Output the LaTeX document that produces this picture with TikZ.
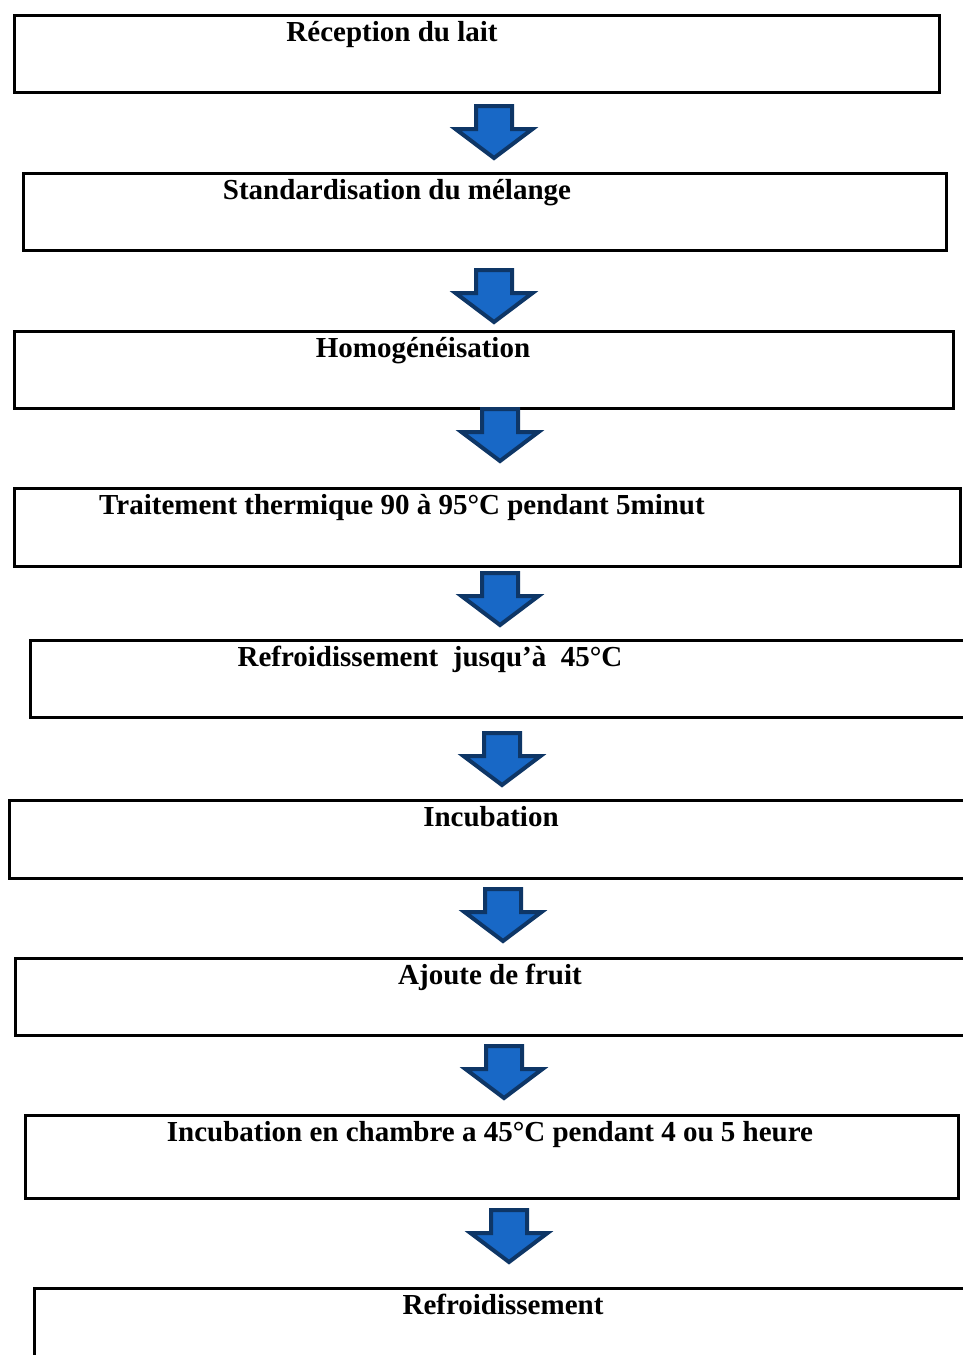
\documentclass[tikz,border=0pt]{standalone}
\usepackage{fontspec}
\setmainfont{Liberation Serif}
\definecolor{arrfill}{RGB}{24,104,198}
\definecolor{arrline}{RGB}{14,54,102}
\begin{document}
\begin{tikzpicture}[x=1pt,y=-1pt,
  box/.style={draw=black,line width=2.5pt,inner sep=0pt,anchor=north west},
  lbl/.style={font=\fontsize{29}{34}\selectfont\bfseries,anchor=base,inner sep=0pt},
  blockarrow/.pic={\draw[draw=arrline,fill=arrfill,line width=4pt,line join=miter]
     (-18,2) -- (18,2) -- (18,25) -- (38.5,25) -- (0,54) -- (-38.5,25) -- (-18,25) -- cycle;}]
\useasboundingbox (0,0) rectangle (963,1355);
\fill[white] (0,0) rectangle (963,1355);
% boxes
\node[box,minimum width=925pt,minimum height=77pt] (b1) at (13,14) {};
\node[box,minimum width=923pt,minimum height=77pt] (b2) at (22,172) {};
\node[box,minimum width=939pt,minimum height=77pt] (b3) at (13,330) {};
\node[box,minimum width=946pt,minimum height=78pt] (b4) at (13,487) {};
\node[box,minimum width=960pt,minimum height=77pt] (b5) at (29,639) {};
\node[box,minimum width=980pt,minimum height=78pt] (b6) at (8,799) {};
\node[box,minimum width=980pt,minimum height=77pt] (b7) at (14,957) {};
\node[box,minimum width=933pt,minimum height=83pt] (b8) at (24,1114) {};
\node[box,minimum width=960pt,minimum height=100pt] (b9) at (33,1287) {};
% labels
\node[lbl] (t1) at (392,41) {Réception du lait};
\node[lbl] (t2) at (397,199) {Standardisation du mélange};
\node[lbl] (t3) at (423,357) {Homogénéisation};
\node[lbl] (t4) at (402,514) {Traitement thermique 90 à 95°C pendant 5minut};
\node[lbl] (t5) at (430,666) {Refroidissement\ \ jusqu’à\ \ 45°C};
\node[lbl] (t6) at (491,826) {Incubation};
\node[lbl] (t7) at (490,984) {Ajoute de fruit};
\node[lbl] (t8) at (490,1141) {Incubation en chambre a 45°C pendant 4 ou 5 heure};
\node[lbl] (t9) at (503,1314) {Refroidissement};
% arrows
\coordinate (a1) at (494,104);
\coordinate (a2) at (494,268);
\coordinate (a3) at (500,407);
\coordinate (a4) at (500,571);
\coordinate (a5) at (502,731);
\coordinate (a6) at (503,887);
\coordinate (a7) at (504,1044);
\coordinate (a8) at (509,1208);
\foreach \a in {a1,a2,a3,a4,a5,a6,a7,a8} { \pic at (\a) {blockarrow}; }
\end{tikzpicture}
\end{document}
